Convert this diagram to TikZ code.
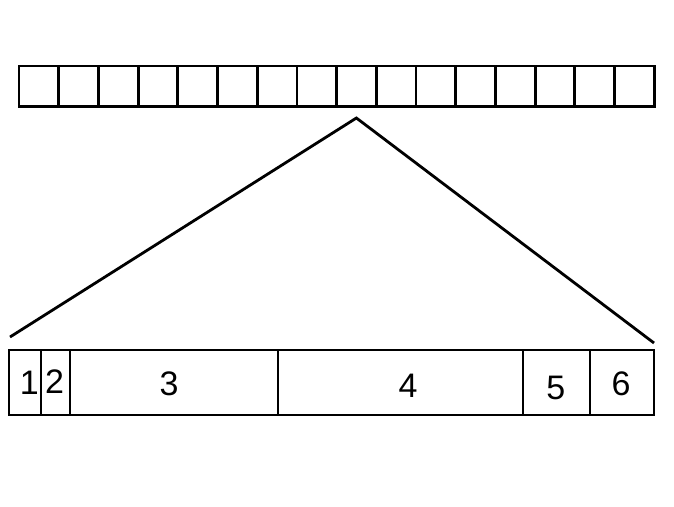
\documentclass[tikz,border=0pt]{standalone}
\usepackage{fontspec}
\setmainfont{Liberation Sans}
\usetikzlibrary{positioning}
\tikzset{
  cell/.style={draw, line width=2.8pt, minimum width=39.7pt, minimum height=40.5pt, inner sep=0pt},
  part/.style={draw, line width=2pt, minimum height=65pt, inner sep=0pt},
  num/.style={inner sep=0pt, font=\fontsize{34pt}{34pt}\selectfont},
}
\begin{document}
\begin{tikzpicture}[x=1pt, y=-1pt]
    \useasboundingbox (0,0) rectangle (674,506);
    % top row of 16 cells
    \foreach \i in {1,...,16}
      \node[cell] (c\i) at ({19+39.7*(\i-0.5)},86.2) {};
    \coordinate (apex) at (356.4,118);
    \coordinate (lend) at (10,337);
    \coordinate (rend) at (654,343);
    \draw[line width=2.8pt] (lend) -- (apex) -- (rend);
    % bottom row
    \node[part, minimum width=31.7pt] (p1) at (24.9,382.5) {};
    \node[part, minimum width=29.6pt] (p2) at (55.5,382.5) {};
    \node[part, minimum width=208pt] (p3) at (174.3,382.5) {};
    \node[part, minimum width=245pt] (p4) at (400.8,382.5) {};
    \node[part, minimum width=66.7pt] (p5) at (556.7,382.5) {};
    \node[part, minimum width=64pt] (p6) at (622,382.5) {};
    \node[num] (n1) at (29.3,383) {1};
    \node[num] (n2) at (54.7,382) {2};
    \node[num] (n3) at (169,383.8) {3};
    \node[num] (n4) at (408,385.8) {4};
    \node[num] (n5) at (555.7,387.5) {5};
    \node[num] (n6) at (621,383.8) {6};
\end{tikzpicture}
\end{document}
